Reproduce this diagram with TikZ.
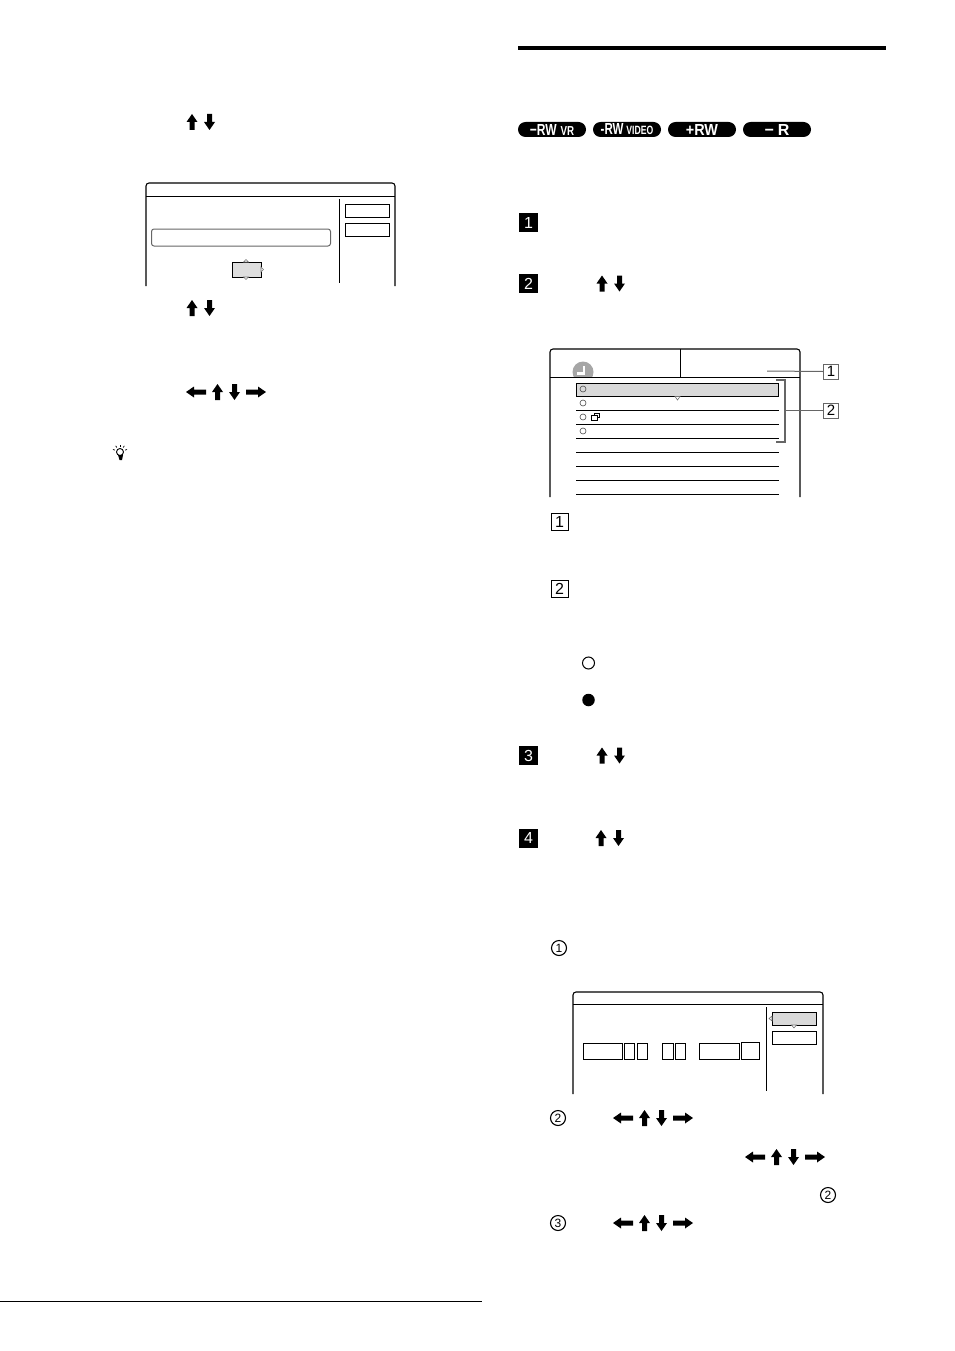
\documentclass[tikz,border=0pt]{standalone}
\usepackage{fontspec}
\setsansfont{Liberation Sans}
\usetikzlibrary{arrows}

\tikzset{
  arrowup/.pic={\fill (-2.5,8) -- (-2.5,0) -- (-5.5,0) -- (0,-8) -- (5.5,0) -- (2.5,0) -- (2.5,8) -- cycle;},
  arrowdown/.pic={\fill (-2.5,-8) -- (-2.5,0) -- (-5.5,0) -- (0,8) -- (5.5,0) -- (2.5,0) -- (2.5,-8) -- cycle;},
  arrowleft/.pic={\fill (10,-2.5) -- (-2,-2.5) -- (-2,-5.5) -- (-10,0) -- (-2,5.5) -- (-2,2.5) -- (10,2.5) -- cycle;},
  arrowright/.pic={\fill (-10,-2.5) -- (2,-2.5) -- (2,-5.5) -- (10,0) -- (2,5.5) -- (2,2.5) -- (-10,2.5) -- cycle;},
  arrowpair/.pic={\pic at (0,0) {arrowup}; \pic at (17.5,0) {arrowdown};},
  arrowfour/.pic={\pic at (-21.5,0) {arrowleft}; \pic at (0,0) {arrowup};
                  \pic at (17,0) {arrowdown}; \pic at (38.5,0) {arrowright};}
}

\begin{document}
\begin{tikzpicture}[x=1pt,y=-1pt,line width=1pt,font=\sffamily]
\tikzstyle{screen}=[line width=1.1pt,rounded corners=3pt]
\tikzstyle{badge}=[fill=black,text=white,rounded corners=7.5pt,minimum width=68pt,minimum height=15pt,inner sep=0pt,font=\sffamily\bfseries\fontsize{16}{16}\selectfont]
\tikzstyle{stepbox}=[fill=black,text=white,minimum size=19pt,inner sep=0pt,font=\sffamily\fontsize{16}{16}\selectfont]
\tikzstyle{callout}=[draw=black,fill=white,minimum size=15pt,inner sep=0pt,font=\sffamily\fontsize{15}{15}\selectfont]
\tikzstyle{substep}=[draw=black,circle,minimum size=15pt,inner sep=0pt,line width=1.1pt,font=\sffamily\fontsize{12}{12}\selectfont]
\tikzstyle{btn}=[draw=black,minimum width=44pt,minimum height=13pt,inner sep=0pt]
\tikzstyle{field}=[draw=black,minimum height=16pt,inner sep=0pt,line width=0.8pt]
\tikzstyle{tick}=[draw=black!55,fill=white,line width=0.6pt]
\tikzstyle{dot}=[draw=black!70,circle,minimum size=6pt,inner sep=0pt,line width=0.6pt]
\useasboundingbox (0,0) rectangle (954,1351);

% left column
\pic at (192,122) {arrowpair};
\draw[screen] (146,286) -- (146,183) -- (395,183) -- (395,286);
\draw (146,197) -- (395,197);
\draw (339,199) -- (339,283);
\node[btn] (top) at (367,210.5) {};
\node[btn] (bottom) at (367,229.5) {};
\node[draw=black!60,rounded corners=2.5pt,minimum width=179pt,minimum height=17pt,inner sep=0pt] (namefield) at (241,237.5) {};
\node[draw=black,fill=black!13,minimum width=29pt,minimum height=15pt,inner sep=0pt] (selected) at (246.5,269.5) {};
\fill[tick] (243.5,262) -- (246,259.5) -- (248.5,262) -- cycle;
\fill[tick] (243.5,277) -- (246,279.5) -- (248.5,277) -- cycle;
\fill[tick] (261,267) -- (263.5,269.5) -- (261,272) -- cycle;
\pic at (192,308) {arrowpair};
\pic at (217.5,392) {arrowfour};
% tip icon
\draw[line width=0.9pt] (120,452) circle (3.5pt);
\fill (118,455) -- (123,455) -- (122,460) -- (119.5,460) -- cycle;
\foreach \a in {-160,-125,-90,-55,-20}
  \draw[line width=0.7pt] (120,452) ++(\a:5.5) -- ++(\a:2);
\draw[line width=0.8pt] (0,1301) -- (482,1301);

% right column
\fill (518,46) rectangle (886,50);
\node[badge] (rwvr) at (552,129.5) {\scalebox{0.75}[1]{−RW\hspace{5pt}{\fontsize{13}{13}\selectfont VR}}};
\node[badge] (rwvideo) at (627,129.5) {\scalebox{0.72}[1]{-RW\hspace{4pt}{\fontsize{12}{12}\selectfont VIDEO}}};
\node[badge] (plusrw) at (702,129.5) {\scalebox{0.9}[1]{+RW}};
\node[badge] (minusr) at (777,129.5) {−\hspace{4pt}R};

\node[stepbox] (step1) at (528.5,222.5) {1};
\node[stepbox] (step2) at (528.5,283.5) {2};
\node[stepbox] (step3) at (528.5,755.5) {3};
\node[stepbox] (step4) at (528.5,838) {4};
\pic at (602,283.5) {arrowpair};
\pic at (602,755.5) {arrowpair};
\pic at (601,838) {arrowpair};

% timer list screen
\begin{scope}
\clip (570,360) rectangle (600,377);
\fill[black!35] (583,372) circle (10.5pt);
\fill[white] (582.5,366) rectangle (585,373.5);
\fill[white] (577,372) rectangle (585,374.5);
\end{scope}
\draw[screen] (550,497) -- (550,349) -- (800,349) -- (800,497);
\draw (550,377) -- (800,377);
\draw (680,349) -- (680,377);
\node[draw=black,fill=black!15,minimum width=202pt,minimum height=13pt,inner sep=0pt,line width=1pt] (rowsel) at (677,389.5) {};
\fill[tick] (675,396.5) -- (677.5,400) -- (680,396.5) -- cycle;
\foreach \y in {410,424,438,452,466,480,494}
  \draw (576,\y) -- (779,\y);
\foreach \y/\n in {389/a,403/b,417/c,431/d}
  \node[dot] (dot\n) at (583,\y) {};
\draw[line width=0.7pt] (591,415) rectangle (597,420);
\draw[line width=0.7pt] (594,415) -- (594,413) -- (599.5,413) -- (599.5,417.5) -- (597,417.5);
\node[callout,draw=black!60] (call1) at (831,371.5) {1};
\node[callout,draw=black!60] (call2) at (831,410.5) {2};
\draw[black!60] (767,371) -- (call1.west);
\draw[black!60,line width=1.5pt] (776,380) -- (785,380) -- (785,442) -- (776,442);
\draw[black!60,line width=1.5pt] (785,410.5) -- (call2.west);
\node[callout,minimum size=17pt,font=\sffamily\fontsize{16}{16}\selectfont] (note1) at (559.5,521.5) {1};
\node[callout,minimum size=17pt,font=\sffamily\fontsize{16}{16}\selectfont] (note2) at (559.5,588.5) {2};
\node[draw=black,circle,minimum size=12pt,inner sep=0pt] (open) at (588.5,663) {};
\node[fill=black,circle,minimum size=12.5pt,inner sep=0pt] (closed) at (588.5,700) {};

\node[substep] (sub1) at (559,948) {1};

% date setting screen
\draw[screen] (573,1094) -- (573,992) -- (823,992) -- (823,1094);
\draw (573,1004) -- (823,1004);
\draw (766,1007) -- (766,1091);
\node[btn,fill=black!15] (set) at (794,1018.5) {};
\node[btn] (cancel) at (794,1037.5) {};
\fill[tick] (772,1016) -- (769,1018.5) -- (772,1021) -- cycle;
\fill[tick] (791.5,1025) -- (794,1028) -- (796.5,1025) -- cycle;
\node[field,minimum width=39pt] (f1) at (602.5,1051) {};
\node[field,minimum width=10.5pt] (f2) at (629.5,1051) {};
\node[field,minimum width=10.5pt] (f3) at (642.5,1051) {};
\node[field,minimum width=10.5pt] (f4) at (668,1051) {};
\node[field,minimum width=10.5pt] (f5) at (680.5,1051) {};
\node[field,minimum width=40pt] (f6) at (719,1051) {};
\node[field,minimum width=18pt,minimum height=17pt] (f7) at (750.5,1050.5) {};
\draw[line width=1.8pt] (f7.south west) -- (f7.south east);

\node[substep] (sub2) at (558,1118) {2};
\pic at (644.5,1118) {arrowfour};
\pic at (776.5,1157) {arrowfour};
\node[substep] (sub2b) at (828,1195) {2};
\node[substep] (sub3) at (558,1223) {3};
\pic at (644.5,1223) {arrowfour};
\end{tikzpicture}
\end{document}
